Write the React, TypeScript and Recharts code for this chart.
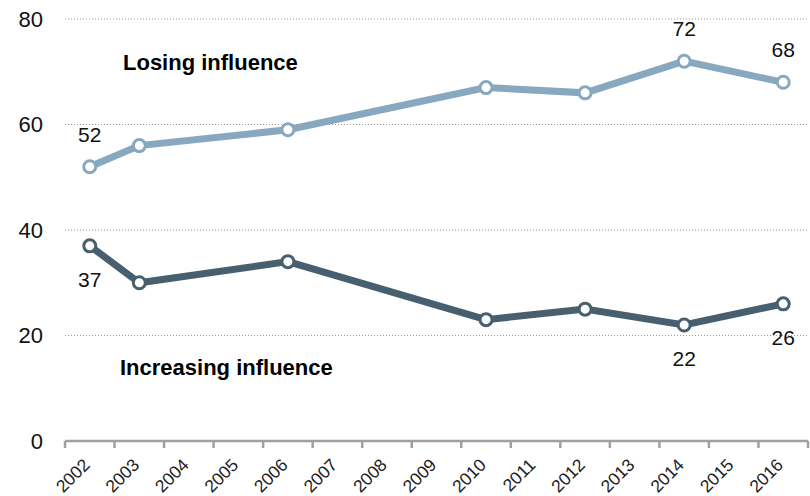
import React from 'react';
import { LineChart, Line, XAxis, YAxis, CartesianGrid, LabelList } from 'recharts';

const years = [2002, 2003, 2006, 2010, 2012, 2014, 2016];
const losing = [52, 56, 59, 67, 66, 72, 68];
const increasing = [37, 30, 34, 23, 25, 22, 26];
const tickYears = [2002, 2003, 2004, 2005, 2006, 2007, 2008, 2009, 2010, 2011, 2012, 2013, 2014, 2015, 2016];
const yTicks = [0, 20, 40, 60, 80];
// only these points carry a value label
const labelled = [0, 5, 6];

const data = years.map((year, i) => ({ year, losing: losing[i], increasing: increasing[i] }));
// tick marks sit between the years, labels sit on the years
const boundaries = tickYears.map((y) => y - 0.5).concat(tickYears[tickYears.length - 1] + 0.5);

const W = 810;
const H = 496;
const Y_AXIS_W = 65;
const RIGHT = 2;
const HALF_STEP = (W - Y_AXIS_W - RIGHT) / tickYears.length / 2;

const LIGHT = '#87a8bf';
const DARK = '#475f6e';
const FONT = '"Liberation Sans", Arial, sans-serif';

const YearTick = (props: any) => {
    const { x, y, payload } = props;
    const year = payload.value + 0.5;
    if (!tickYears.includes(year)) return <g />;
    const ax = x + HALF_STEP + 1;
    const ay = y + 16;
    return (
        <text
            x={ax}
            y={ay}
            textAnchor="end"
            fontSize={17.5}
            fontFamily={FONT}
            fill="#222"
            transform={`rotate(-45, ${ax}, ${ay})`}
        >
            {year}
        </text>
    );
};

const makeLabel = (dy: number) => (props: any) => {
    const { x, y, value, index } = props;
    if (!labelled.includes(index)) return null;
    return (
        <text x={x} y={y + dy} textAnchor="middle" fontSize={21} fontFamily={FONT} fill="#111">
            {value}
        </text>
    );
};

export default function App() {
    return (
        <div style={{ position: 'absolute', left: 0, top: 0, width: W, height: H, background: '#fff' }}>
            <LineChart width={W} height={H} data={data} margin={{ top: 19, right: RIGHT, left: 0, bottom: 0 }}>
                <CartesianGrid horizontal vertical={false} stroke="#999" strokeDasharray="1 2" />
                <XAxis
                    dataKey="year"
                    type="number"
                    domain={[2001.5, 2016.5]}
                    ticks={boundaries}
                    interval={0}
                    height={55}
                    tickSize={7}
                    axisLine={{ stroke: '#a0a0a0', strokeWidth: 2.5 }}
                    tickLine={{ stroke: '#a0a0a0', strokeWidth: 2.5 }}
                    tick={<YearTick />}
                    allowDataOverflow
                />
                <YAxis
                    width={Y_AXIS_W}
                    domain={[0, 80]}
                    ticks={yTicks}
                    axisLine={false}
                    tickLine={false}
                    tickMargin={16}
                    tick={{ fontSize: 22, fill: '#111', fontFamily: FONT }}
                />
                <Line
                    dataKey="losing"
                    stroke={LIGHT}
                    strokeWidth={7}
                    dot={{ r: 6, fill: '#fff', stroke: LIGHT, strokeWidth: 3 }}
                    isAnimationActive={false}
                >
                    <LabelList dataKey="losing" content={makeLabel(-25)} />
                </Line>
                <Line
                    dataKey="increasing"
                    stroke={DARK}
                    strokeWidth={7}
                    dot={{ r: 6, fill: '#fff', stroke: DARK, strokeWidth: 3 }}
                    isAnimationActive={false}
                >
                    <LabelList dataKey="increasing" content={makeLabel(41)} />
                </Line>
            </LineChart>
            <svg width={W} height={H} style={{ position: 'absolute', left: 0, top: 0, pointerEvents: 'none' }}>
                <text x={123} y={70} fontSize={22} fontWeight="bold" fontFamily={FONT} fill="#000">
                    Losing influence
                </text>
                <text x={120} y={375} fontSize={22} fontWeight="bold" fontFamily={FONT} fill="#000">
                    Increasing influence
                </text>
            </svg>
        </div>
    );
}
